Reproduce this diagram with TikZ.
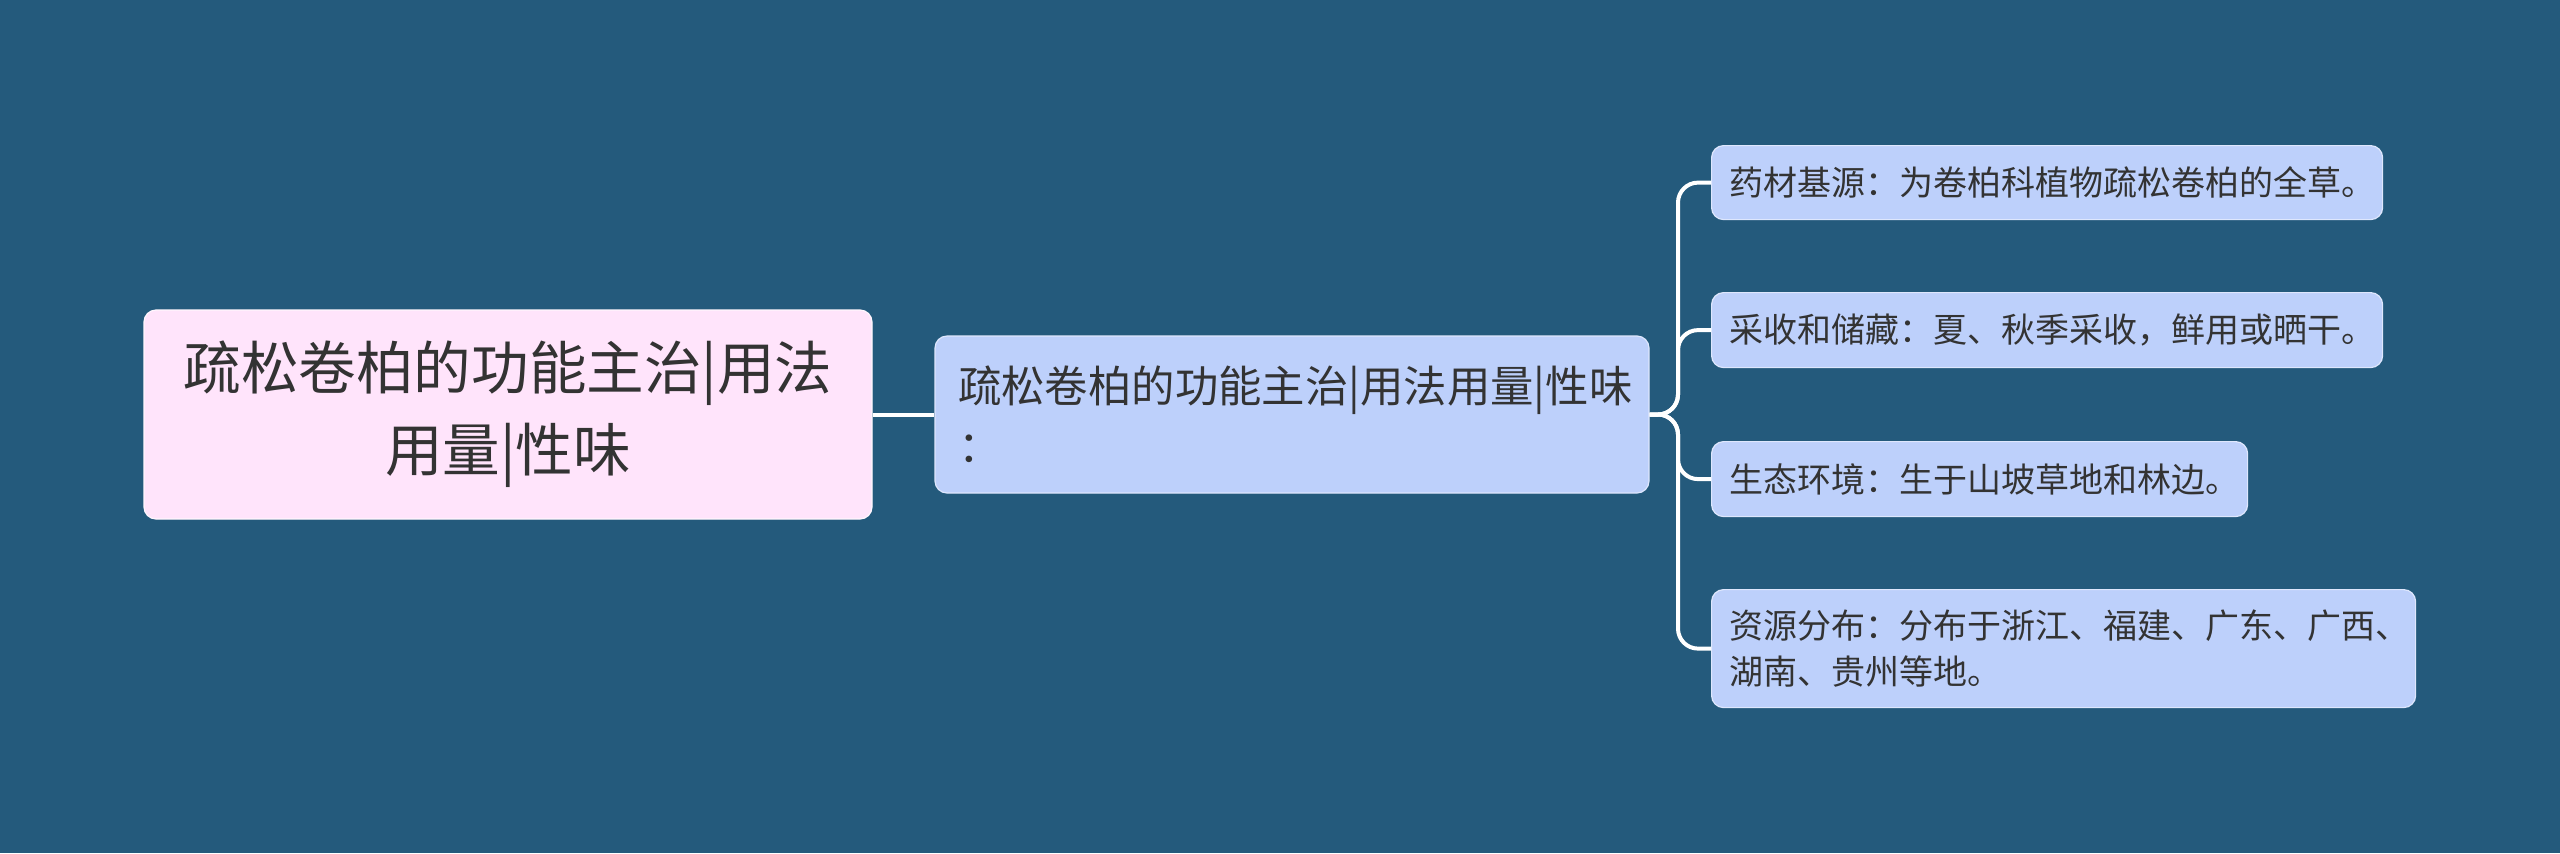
\documentclass[tikz,border=0pt]{standalone}
\usepackage{fontspec}
\setmainfont{Noto Sans CJK SC}
\usetikzlibrary{calc}
\definecolor{bg}{HTML}{245A7C}
\definecolor{rootfill}{HTML}{FFE4FB}
\definecolor{boxfill}{HTML}{BDD0FB}
\definecolor{txt}{HTML}{333333}
\definecolor{linec}{HTML}{FFFFFF}
\tikzset{
  rootbox/.style={draw=white!70!rootfill, line width=0.6pt, fill=rootfill, rounded corners=6pt, text=txt, align=center, inner sep=0pt, font=\fontsize{28.8}{41}\selectfont},
  midbox/.style={draw=white!50!boxfill, line width=0.6pt, fill=boxfill, rounded corners=6pt, text=txt, align=left, inner xsep=11.5pt, inner ysep=0pt, font=\fontsize{21.7}{30}\selectfont},
  leafbox/.style={draw=white!50!boxfill, line width=0.6pt, fill=boxfill, rounded corners=6pt, text=txt, align=left, inner xsep=9pt, inner ysep=0pt, anchor=north west, font=\fontsize{17}{23}\selectfont},
  conn/.style={draw=linec, line width=2pt, rounded corners=10pt}
}
\begin{document}
\begin{tikzpicture}[x=0.5pt,y=-0.5pt]
\useasboundingbox (0,0) rectangle (2560,853);
\fill[bg] (0,0) rectangle (2560,853);
\node[rootbox, minimum width=364pt, minimum height=104.5pt, text width=360pt] (root) at (508,414.5)
  {疏松卷柏的功能主治|用法\\用量|性味};
\node[midbox, minimum width=357pt, minimum height=78.5pt, text width=334pt] (mid) at (1292,414.5)
  {疏松卷柏的功能主治|用法用量|性味\\：};
\node[leafbox, minimum width=335.5pt, minimum height=37pt, text width=317.5pt] (c1) at (1711,145)
  {药材基源：为卷柏科植物疏松卷柏的全草。};
\node[leafbox, minimum width=335.5pt, minimum height=37.5pt, text width=317.5pt] (c2) at (1711,292)
  {采收和储藏：夏、秋季采收，鲜用或晒干。};
\node[leafbox, minimum width=268pt, minimum height=37.5pt, text width=250pt] (c3) at (1711,441)
  {生态环境：生于山坡草地和林边。};
\node[leafbox, minimum width=352pt, minimum height=59pt, text width=334pt] (c4) at (1711,589)
  {资源分布：分布于浙江、福建、广东、广西、\\湖南、贵州等地。};
\draw[conn] (root.east) -- (mid.west);
\coordinate (trunk) at (1678,414.5);
\draw[conn] (mid.east) -- (trunk) |- (c1.west);
\draw[conn] (mid.east) -- (trunk) |- (c2.west);
\draw[conn] (mid.east) -- (trunk) |- (c3.west);
\draw[conn] (mid.east) -- (trunk) |- (c4.west);
\end{tikzpicture}
\end{document}
